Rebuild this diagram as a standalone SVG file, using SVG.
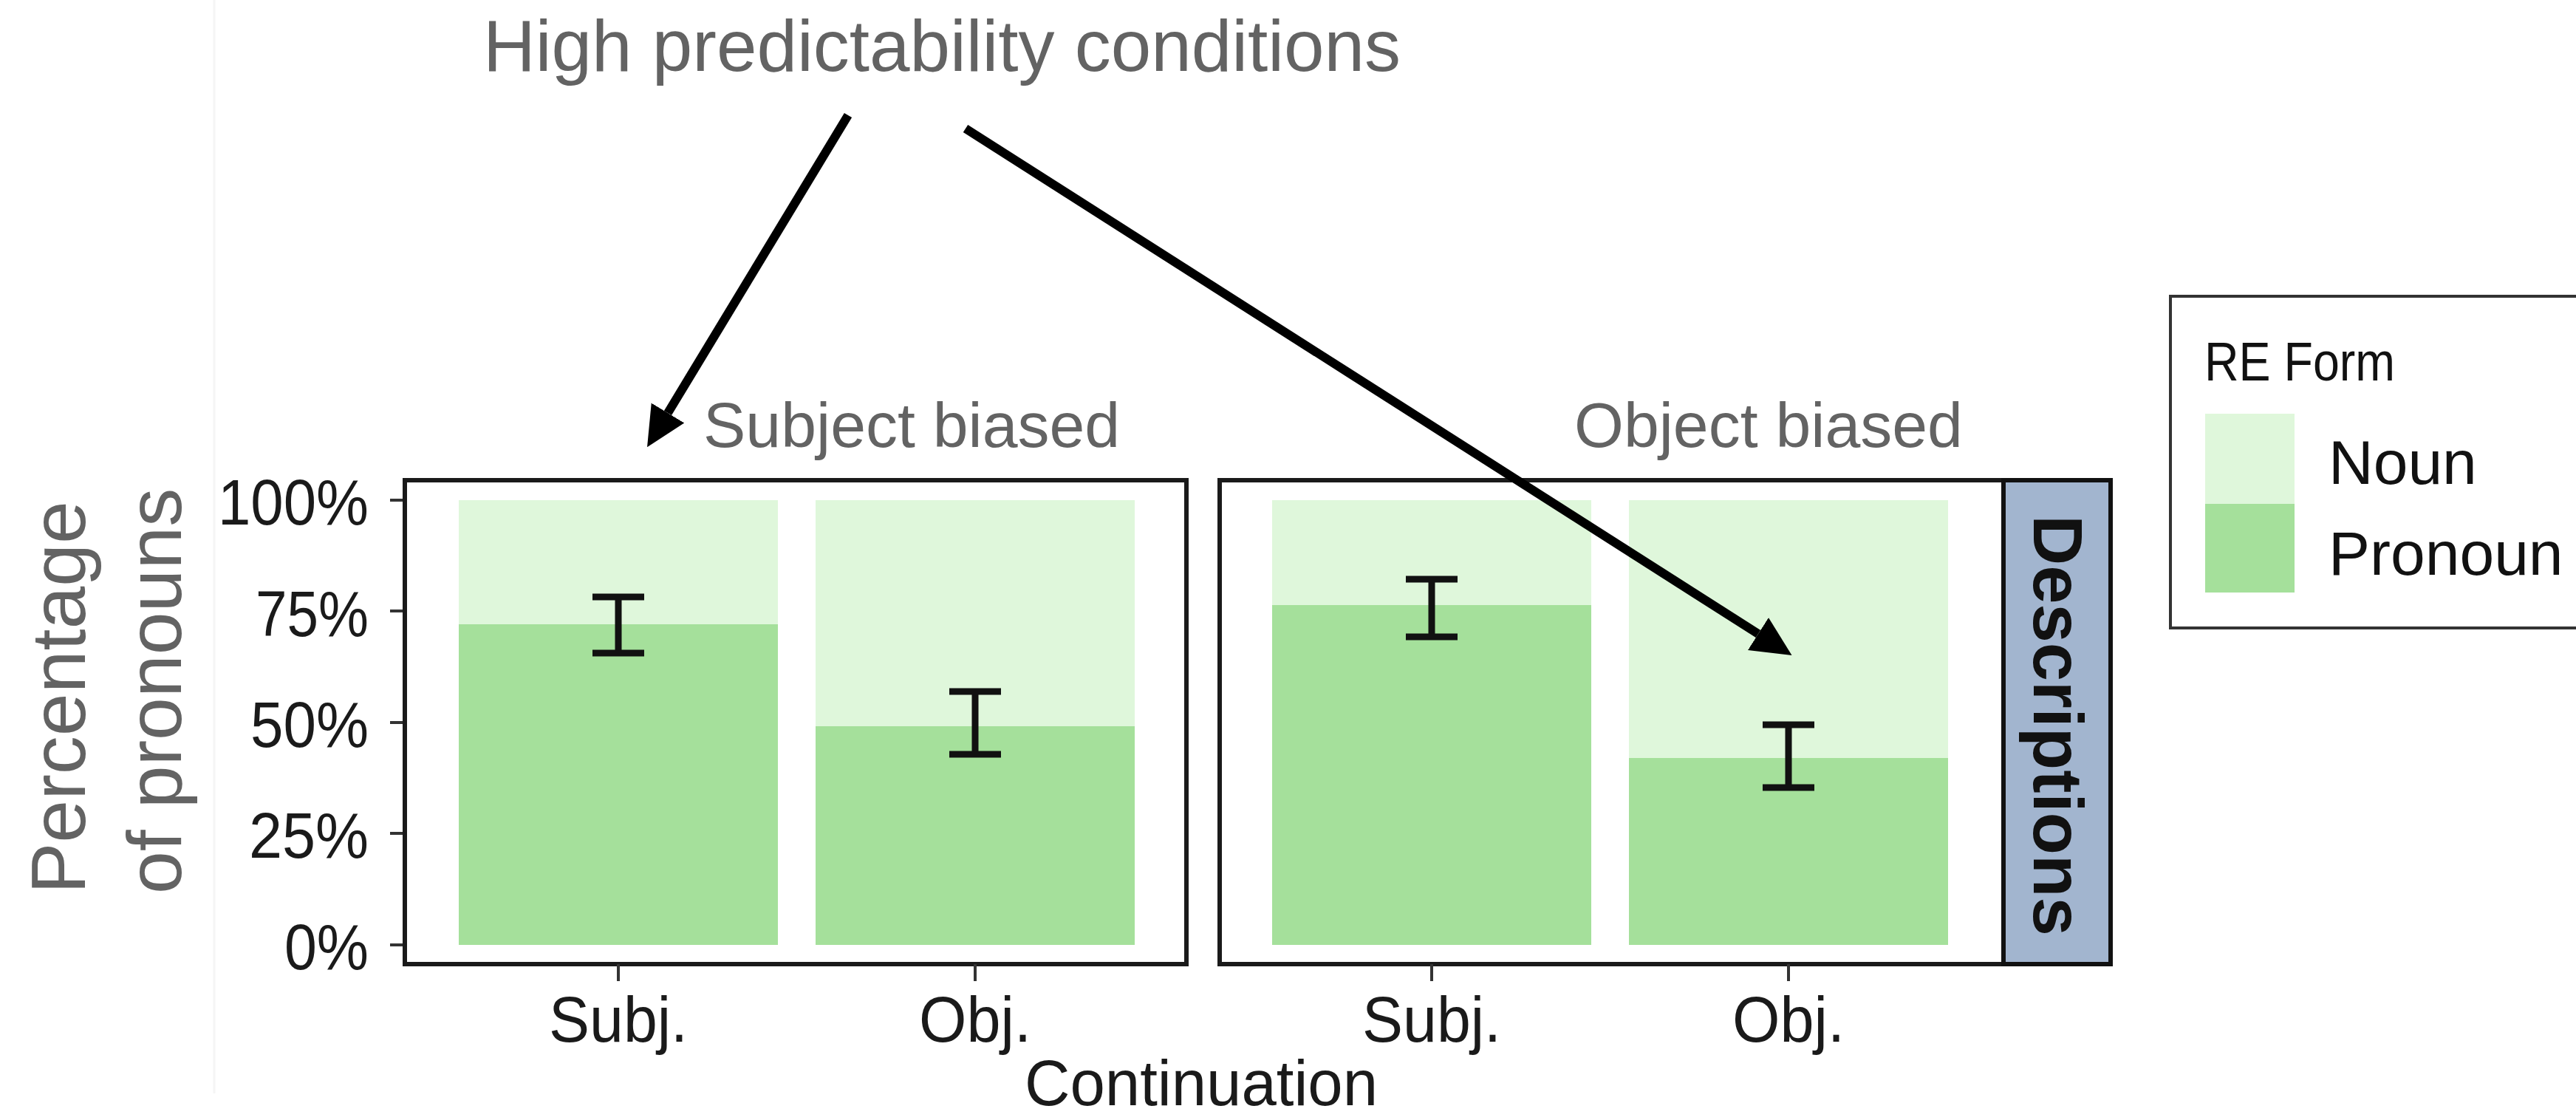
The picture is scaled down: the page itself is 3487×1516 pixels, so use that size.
<svg xmlns="http://www.w3.org/2000/svg" width="3487" height="1516" viewBox="0 0 3487 1516">
  <style>
    text { font-family: "Liberation Sans", Arial, Helvetica, sans-serif; }
    .note { fill: #636363; }
    .axis { fill: #1a1a1a; font-size: 88px; }
    .frame { fill: none; stroke: #1a1a1a; stroke-width: 6; }
    .tick { stroke: #333; stroke-width: 4; }
    .noun { fill: #dff7db; }
    .pron { fill: #a5e09b; }
    .err { fill: none; stroke: #111; stroke-width: 9; }
    .arrow { stroke: #000; stroke-width: 12; fill: none; }
  </style>
  <defs>
    <marker id="head" markerUnits="userSpaceOnUse" markerWidth="54" markerHeight="54" viewBox="0 0 54 54" refX="0" refY="27" orient="auto">
      <path d="M0,1 L54,27 L0,53 Z" fill="#000"/>
    </marker>
  </defs>

  <rect width="3487" height="1516" fill="#fff"/>
  <line x1="290" y1="0" x2="290" y2="1480" stroke="#f5f5f5" stroke-width="3"/>

  <!-- heading -->
  <g id="heading">
    <text class="note" x="654" y="96" font-size="98">High predictability conditions</text>
  </g>

  <!-- y axis title -->
  <g id="y-title" class="note" font-size="104">
    <text transform="translate(115,1210) rotate(-90)">Percentage</text>
    <text transform="translate(245,1210) rotate(-90)">of pronouns</text>
  </g>

  <!-- y axis ticks and labels -->
  <g id="y-axis">
    <line class="tick" x1="528" y1="677" x2="548" y2="677"/>
    <line class="tick" x1="528" y1="827" x2="548" y2="827"/>
    <line class="tick" x1="528" y1="978" x2="548" y2="978"/>
    <line class="tick" x1="528" y1="1128" x2="548" y2="1128"/>
    <line class="tick" x1="528" y1="1279" x2="548" y2="1279"/>
    <text class="axis" x="499" y="710" text-anchor="end" textLength="204" lengthAdjust="spacingAndGlyphs">100%</text>
    <text class="axis" x="499" y="861" text-anchor="end" textLength="153" lengthAdjust="spacingAndGlyphs">75%</text>
    <text class="axis" x="499" y="1011" text-anchor="end" textLength="160" lengthAdjust="spacingAndGlyphs">50%</text>
    <text class="axis" x="499" y="1161" text-anchor="end" textLength="162" lengthAdjust="spacingAndGlyphs">25%</text>
    <text class="axis" x="499" y="1312" text-anchor="end" textLength="114" lengthAdjust="spacingAndGlyphs">0%</text>
  </g>

  <!-- panel: subject biased -->
  <g id="panel-subject">
    <text class="note" x="952" y="605" font-size="86">Subject biased</text>
    <rect class="noun" x="621" y="677" width="432" height="602"/>
    <rect class="pron" x="621" y="845" width="432" height="434"/>
    <rect class="noun" x="1104" y="677" width="432" height="602"/>
    <rect class="pron" x="1104" y="983" width="432" height="296"/>
    <path class="err" d="M802,808 H872 M837,808 V884 M802,884 H872"/>
    <path class="err" d="M1285,936 H1355 M1320,936 V1021 M1285,1021 H1355"/>
    <rect class="frame" x="548" y="650" width="1058" height="655"/>
    <line class="tick" x1="837" y1="1305" x2="837" y2="1328"/>
    <line class="tick" x1="1320" y1="1305" x2="1320" y2="1328"/>
    <text class="axis" x="837" y="1410" text-anchor="middle" textLength="188" lengthAdjust="spacingAndGlyphs">Subj.</text>
    <text class="axis" x="1320" y="1410" text-anchor="middle" textLength="152" lengthAdjust="spacingAndGlyphs">Obj.</text>
  </g>

  <!-- panel: object biased -->
  <g id="panel-object">
    <text class="note" x="2131" y="605" font-size="86">Object biased</text>
    <rect class="noun" x="1722" y="677" width="432" height="602"/>
    <rect class="pron" x="1722" y="819" width="432" height="460"/>
    <rect class="noun" x="2205" y="677" width="432" height="602"/>
    <rect class="pron" x="2205" y="1026" width="432" height="253"/>
    <path class="err" d="M1903,784 H1973 M1938,784 V862 M1903,862 H1973"/>
    <path class="err" d="M2386,981 H2456 M2421,981 V1066 M2386,1066 H2456"/>
    <rect class="frame" x="1651" y="650" width="1061" height="655"/>
    <line class="tick" x1="1938" y1="1305" x2="1938" y2="1328"/>
    <line class="tick" x1="2421" y1="1305" x2="2421" y2="1328"/>
    <text class="axis" x="1938" y="1410" text-anchor="middle" textLength="188" lengthAdjust="spacingAndGlyphs">Subj.</text>
    <text class="axis" x="2421" y="1410" text-anchor="middle" textLength="152" lengthAdjust="spacingAndGlyphs">Obj.</text>
  </g>

  <!-- facet strip -->
  <g id="strip">
    <rect x="2712" y="650" width="145" height="655" fill="#a2b5cf" stroke="#111" stroke-width="6"/>
    <text transform="translate(2753,982) rotate(90)" text-anchor="middle" font-size="94" font-weight="bold" fill="#111">Descriptions</text>
  </g>

  <!-- x axis title -->
  <g id="x-title">
    <text class="axis" x="1626" y="1496" font-size="86" text-anchor="middle" textLength="478" lengthAdjust="spacingAndGlyphs">Continuation</text>
  </g>

  <!-- legend -->
  <g id="legend">
    <rect x="2938" y="401" width="600" height="449" fill="#fff" stroke="#333" stroke-width="4"/>
    <text x="2984" y="515" font-size="74" fill="#111" textLength="258" lengthAdjust="spacingAndGlyphs">RE Form</text>
    <rect class="noun" x="2985" y="560" width="121" height="122"/>
    <rect class="pron" x="2985" y="682" width="121" height="120"/>
    <text x="3152" y="655" font-size="84" fill="#111">Noun</text>
    <text x="3152" y="778" font-size="84" fill="#111">Pronoun</text>
  </g>

  <!-- connectors -->
  <g id="connectors">
    <line class="arrow" x1="1148" y1="156" x2="904" y2="559" marker-end="url(#head)"/>
    <line class="arrow" x1="1307" y1="174" x2="2380" y2="858" marker-end="url(#head)"/>
  </g>
</svg>
